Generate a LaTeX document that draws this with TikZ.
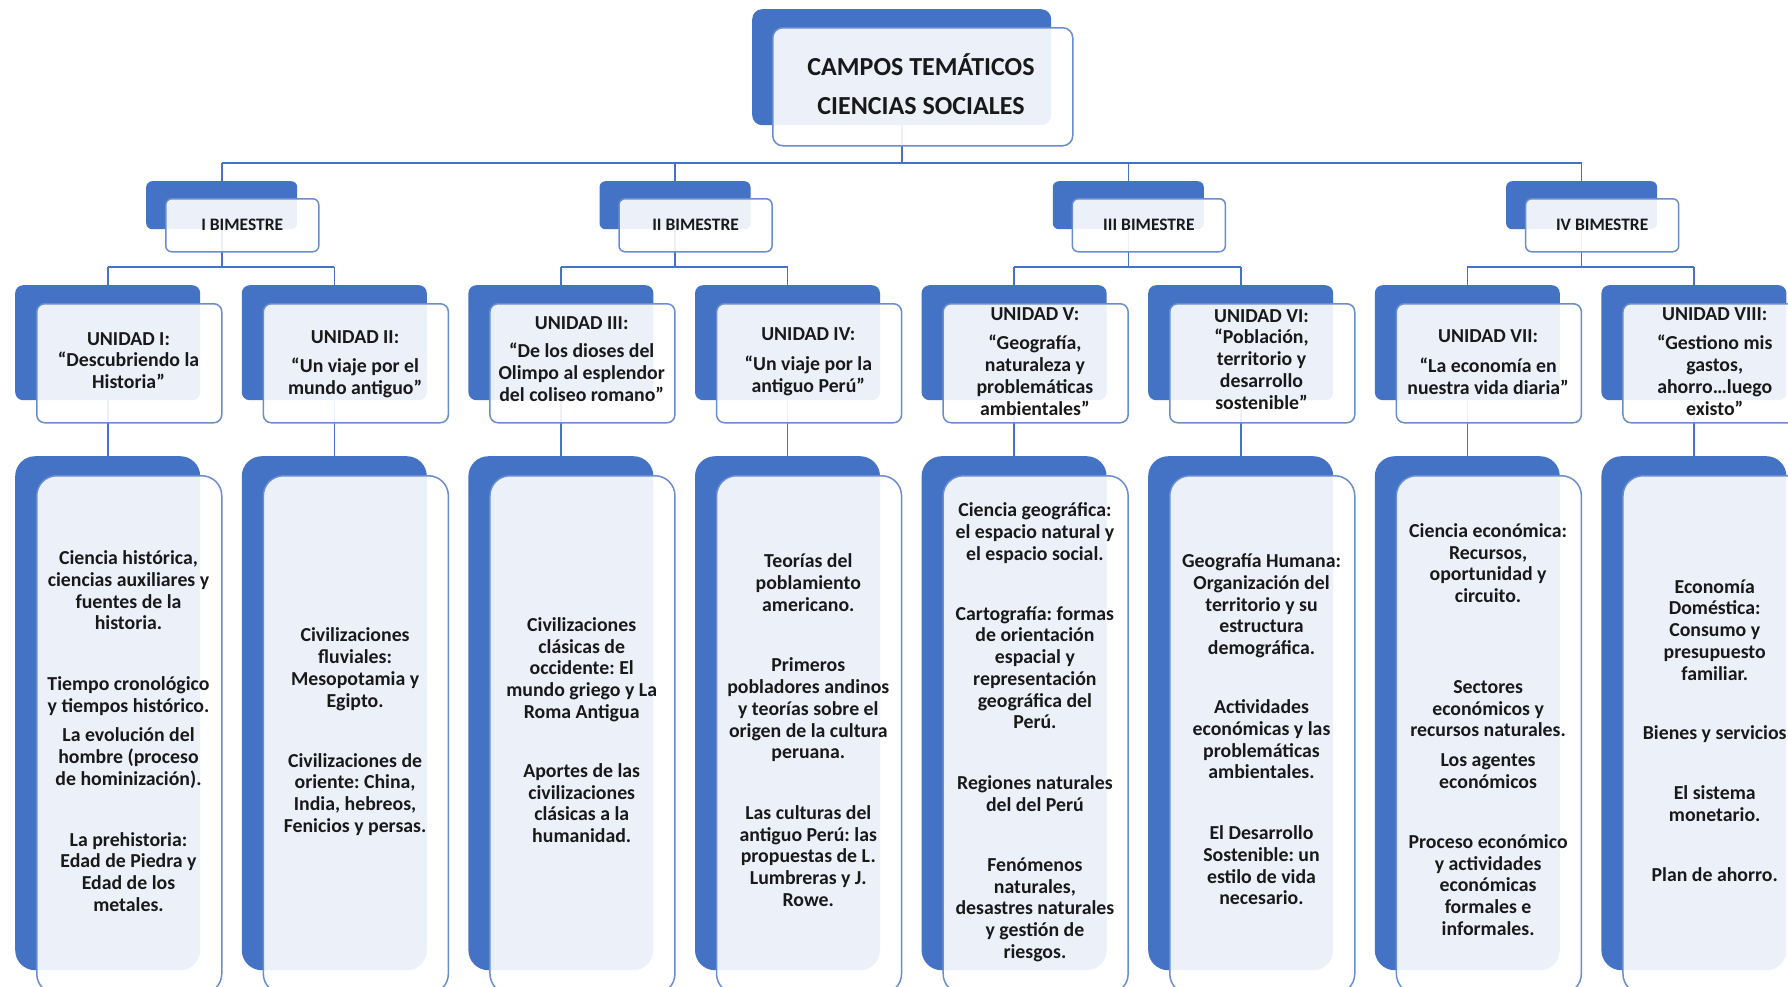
\documentclass[tikz,border=0pt]{standalone}
\usepackage{fontspec}
\setmainfont{Carlito}
\frenchspacing
\definecolor{myblue}{HTML}{4472C4}
\definecolor{edgeblue}{HTML}{6A8DD0}
\pgfdeclarelayer{background}
\pgfsetlayers{background,main}
\newcommand{\fl}{\rule{0pt}{20pt}}
\begin{document}
\begin{tikzpicture}[x=1pt,y=-1pt,
  darkbox/.style={draw=none, fill=myblue, inner sep=0pt, anchor=north west},
  frontbox/.style={fill=white, fill opacity=0.9, draw=edgeblue, draw opacity=1, line width=1.5pt, inner sep=0pt, anchor=north west},
  conn/.style={draw=myblue, line width=1.6pt},
  txt/.style={font=\frenchspacing\bfseries\fontsize{19.8}{21.7}\selectfont, align=center, inner sep=0pt, anchor=north, text=black!90},
  bimtxt/.style={font=\bfseries\fontsize{17.5}{20}\selectfont, align=center, inner sep=0pt, text=black!90},
  titletxt/.style={font=\bfseries\fontsize{26}{39}\selectfont, align=center, inner sep=0pt, text=black!90}]
\useasboundingbox (0,0) rectangle (1788,986);
\coordinate (bus0) at (0,163);
\coordinate (bus1) at (0,267);
% top
\node[darkbox, rounded corners=10pt, minimum width=299pt, minimum height=116pt] (topD) at (752,9) {};
\node[frontbox, rounded corners=10pt, minimum width=300pt, minimum height=118pt] (topF) at (772,27) {};
\node[titletxt] (title) at (921,84) {CAMPOS TEMÁTICOS\\CIENCIAS SOCIALES};
% bimestres
\foreach \k in {0,...,3} {
  \pgfmathsetmacro\bx{146+453.3*\k}
  \node[darkbox, rounded corners=6pt, minimum width=151pt, minimum height=48pt] (bD\k) at (\bx,181) {};
  \node[frontbox, rounded corners=6pt, minimum width=153pt, minimum height=53pt] (bF\k) at (\bx+19,198) {};
}
\node[bimtxt] (bt0) at (bF0.center) {I BIMESTRE};
\node[bimtxt] (bt1) at (bF1.center) {II BIMESTRE};
\node[bimtxt] (bt2) at (bF2.center) {III BIMESTRE};
\node[bimtxt] (bt3) at (bF3.center) {IV BIMESTRE};
% unidades and contents
\foreach \j in {0,...,7} {
  \pgfmathsetmacro\ux{15+226.6*\j}
  \node[darkbox, rounded corners=8pt, minimum width=185pt, minimum height=115pt] (uD\j) at (\ux,285) {};
  \node[frontbox, rounded corners=8pt, minimum width=185pt, minimum height=119pt] (uF\j) at (\ux+21,303) {};
  \node[darkbox, rounded corners=20pt, minimum width=185pt, minimum height=514pt] (cD\j) at (\ux,456) {};
  \node[frontbox, rounded corners=20pt, minimum width=185pt, minimum height=518pt] (cF\j) at (\ux+21,475) {};
}
% connectors
\begin{pgfonlayer}{background}
\fill[white] (0,0) rectangle (1788,986);
\draw[conn] (topD.south) -- (topD.south |- bus0);
\draw[conn] (bD0.north |- bus0) -- (bD3.north |- bus0);
\foreach \k in {0,...,3} {\draw[conn] (bD\k.north |- bus0) -- (bD\k.north);}
\foreach \k/\a/\b in {0/0/1,1/2/3,2/4/5,3/6/7} {
  \draw[conn] (bD\k.south) -- (bD\k.south |- bus1);
  \draw[conn] (uD\a.north |- bus1) -- (uD\b.north |- bus1);
  \draw[conn] (uD\a.north |- bus1) -- (uD\a.north);
  \draw[conn] (uD\b.north |- bus1) -- (uD\b.north);
}
\foreach \j in {0,...,7} {\draw[conn] (uD\j.south) -- (cD\j.north);}
\end{pgfonlayer}
% unit texts
\node[txt] (ut0) at (128.5,325) {\fl UNIDAD I:\\“Descubriendo la\\Historia”};
\node[txt] (ut1) at (355.1,323) {\fl UNIDAD II:\\[8pt]“Un viaje por el\\mundo antiguo”};
\node[txt] (ut2) at (581.7,309) {\fl UNIDAD III:\\[7pt]“De los dioses del\\Olimpo al esplendor\\del coliseo romano”};
\node[txt] (ut3) at (808.3,320) {\fl UNIDAD IV:\\[9pt]“Un viaje por la\\antiguo Perú”};
\node[txt] (ut4) at (1034.9,300) {\fl UNIDAD V:\\[8pt]“Geografía,\\naturaleza y\\problemáticas\\ambientales”};
\node[txt] (ut5) at (1261.5,302) {\fl UNIDAD VI:\\“Población,\\territorio y\\desarrollo\\sostenible”};
\node[txt] (ut6) at (1488.1,322) {\fl UNIDAD VII:\\[9pt]“La economía en\\nuestra vida diaria”};
\node[txt] (ut7) at (1714.7,300) {\fl UNIDAD VIII:\\[8pt]“Gestiono mis\\gastos,\\ahorro…luego\\existo”};
% content texts
\node[txt] (ct0) at (128.5,544.5) {\fl Ciencia histórica,\\ciencias auxiliares y\\fuentes de la\\historia.\\[39pt]Tiempo cronológico\\y tiempos histórico.\\[8pt]La evolución del\\hombre (proceso\\de hominización).\\[39pt]La prehistoria:\\Edad de Piedra y\\Edad de los\\metales.};
\node[txt] (ct1) at (355.1,621.7) {\fl Civilizaciones\\fluviales:\\Mesopotamia y\\Egipto.\\[38.5pt]Civilizaciones de\\oriente: China,\\India, hebreos,\\Fenicios y persas.};
\node[txt] (ct2) at (581.7,611.3) {\fl Civilizaciones\\clásicas de\\occidente: El\\mundo griego y La\\Roma Antigua\\[37.5pt]Aportes de las\\civilizaciones\\clásicas a la\\humanidad.};
\node[txt] (ct3) at (808.3,547.6) {\fl Teorías del\\poblamiento\\americano.\\[39pt]Primeros\\pobladores andinos\\y teorías sobre el\\origen de la cultura\\peruana.\\[39pt]Las culturas del\\antiguo Perú: las\\propuestas de L.\\Lumbreras y J.\\Rowe.};
\node[txt] (ct4) at (1034.9,496.4) {\fl Ciencia geográfica:\\el espacio natural y\\el espacio social.\\[38.5pt]Cartografía: formas\\de orientación\\espacial y\\representación\\geográfica del\\Perú.\\[39pt]Regiones naturales\\del del Perú\\[38.5pt]Fenómenos\\naturales,\\desastres naturales\\y gestión de\\riesgos.};
\node[txt] (ct5) at (1261.5,547.6) {\fl Geografía Humana:\\Organización del\\territorio y su\\estructura\\demográfica.\\[37.5pt]Actividades\\económicas y las\\problemáticas\\ambientales.\\[39pt]El Desarrollo\\Sostenible: un\\estilo de vida\\necesario.};
\node[txt] (ct6) at (1488.1,517.3) {\fl Ciencia económica:\\Recursos,\\oportunidad y\\circuito.\\[69pt]Sectores\\económicos y\\recursos naturales.\\[8pt]Los agentes\\económicos\\[38.5pt]Proceso económico\\y actividades\\económicas\\formales e\\informales.};
\node[txt] (ct7) at (1714.7,573) {\fl Economía\\Doméstica:\\Consumo y\\presupuesto\\familiar.\\[37.5pt]Bienes y servicios\\[38.5pt]El sistema\\monetario.\\[39pt]Plan de ahorro.};
\end{tikzpicture}
\end{document}
